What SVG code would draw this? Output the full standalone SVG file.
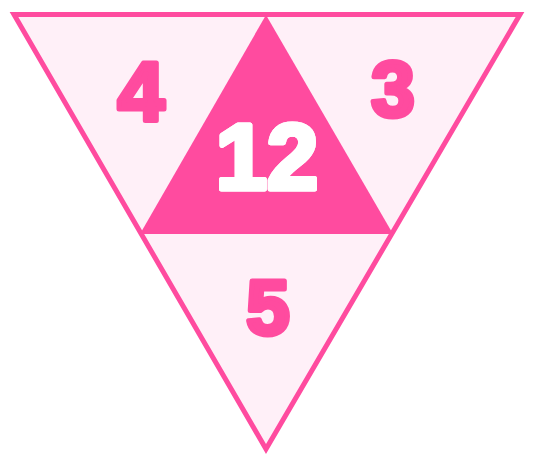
<svg xmlns="http://www.w3.org/2000/svg" width="534" height="466" viewBox="0 0 534 466">
<style>
.num{font-family:"Liberation Sans","Arial",sans-serif;font-weight:bold;text-anchor:middle;fill:#ff4b9f;stroke:#ff4b9f;stroke-width:5;stroke-linejoin:round}
.big{font-family:"Liberation Sans","Arial",sans-serif;font-weight:bold;text-anchor:middle;fill:#ffffff;stroke:#ffffff;stroke-width:5;stroke-linejoin:round}
</style>
<rect width="534" height="466" fill="#ffffff"/>
<g id="outer">
<polygon points="14,14.5 520,14.5 266,449" fill="#fff0f8" stroke="#ff4b9f" stroke-width="5" stroke-linejoin="miter"/>
</g>
<g id="center">
<polygon points="266,15 140,234 393,234" fill="#ff4b9f"/>
<text class="big" x="267" y="189" font-size="92" stroke="#ff86bf" stroke-width="9" fill="#ff86bf">12</text>
<text class="big" x="267" y="189" font-size="92">12</text>
</g>
<g id="left"><text class="num" x="141" y="121" font-size="84">4</text></g>
<g id="right"><text class="num" x="393" y="116" font-size="78">3</text></g>
<g id="bottom"><text class="num" x="268" y="334" font-size="78">5</text></g>
</svg>
